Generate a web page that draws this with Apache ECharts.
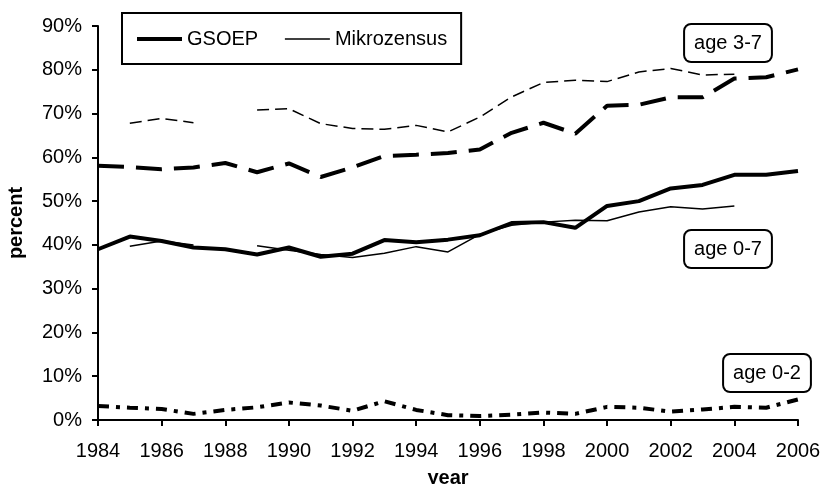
<!DOCTYPE html>
<html>
<head>
<meta charset="utf-8">
<script src="https://cdn.jsdelivr.net/npm/echarts@6/dist/echarts.min.js"></script>
<style>
html,body{margin:0;padding:0;background:#fff;}
#chart{width:823px;height:484px;}
</style>
</head>
<body>
<div id="chart"></div>
<script>
var years = [1984,1985,1986,1987,1988,1989,1990,1991,1992,1993,1994,1995,1996,1997,1998,1999,2000,2001,2002,2003,2004,2005,2006];
var gsoep07 = [39.0,41.9,40.9,39.4,39.0,37.8,39.4,37.3,38.0,41.1,40.6,41.2,42.2,45.0,45.2,43.9,48.9,50.0,52.9,53.7,56.0,56.0,56.9];
var mikro07 = [null,39.7,40.9,40.0,null,39.8,38.8,37.8,37.1,38.1,39.6,38.4,42.4,44.5,45.2,45.6,45.5,47.5,48.7,48.2,48.9,null,null];
var gsoep37 = [58.1,57.8,57.3,57.7,58.7,56.6,58.6,55.5,57.7,60.3,60.6,61.0,61.8,65.6,67.9,65.4,71.8,72.0,73.7,73.7,78.0,78.3,80.1];
var mikro37 = [null,67.8,68.9,67.9,null,70.8,71.1,67.7,66.6,66.4,67.3,65.8,69.2,73.8,77.1,77.6,77.3,79.5,80.3,78.8,79.0,null,null];
var gsoep02 = [3.2,2.8,2.5,1.4,2.3,2.9,4.0,3.3,2.1,4.3,2.3,1.1,0.9,1.2,1.7,1.4,3.0,2.8,1.9,2.4,3.0,2.8,4.7];
var yTicks = [0,10,20,30,40,50,60,70,80,90];
var legendNames = ['GSOEP','Mikrozensus'];
var annotations = ['age 3-7','age 0-7','age 0-2'];

function pairs(vals){ return years.map(function(y,i){ return [y, vals[i]]; }); }

var FONT = '"Liberation Sans", Arial, Helvetica, sans-serif';
var FS = 20;
var chart = echarts.init(document.getElementById('chart'), null, {renderer:'canvas'});

function ann(text, cx, cy){
  return {
    type:'text', x:cx, y:cy, z:100,
    style:{
      text:text, fill:'#000', font:FS + 'px ' + FONT,
      align:'center', verticalAlign:'middle',
      backgroundColor:'#fff', borderColor:'#000', borderWidth:2, borderRadius:6,
      padding:[8,9,8,9]
    }
  };
}

var option = {
  backgroundColor:'#fff',
  animation:false,
  textStyle:{fontFamily:FONT, color:'#000'},
  grid:{left:98, right:25, top:26, bottom:64, containLabel:false, outerBoundsMode:'none'},
  legend:{
    left:122, top:13,
    orient:'horizontal',
    padding:[15,14,14,13],
    itemGap:26,
    itemWidth:45, itemHeight:14,
    borderColor:'#000', borderWidth:2,
    backgroundColor:'#fff',
    textStyle:{fontSize:FS, color:'#000', fontFamily:FONT, lineHeight:22},
    data:[
      {name:legendNames[0], lineStyle:{type:'solid', width:4, color:'#000'}, itemStyle:{opacity:0}},
      {name:legendNames[1], lineStyle:{type:'solid', width:1.5, color:'#000'}, itemStyle:{opacity:0}}
    ]
  },
  xAxis:{
    type:'value', min:1984, max:2006, interval:2,
    name:'year', nameLocation:'middle', nameGap:48,
    nameTextStyle:{fontSize:FS, fontWeight:'bold', color:'#000', fontFamily:FONT},
    axisLine:{show:true, onZero:false, lineStyle:{color:'#000', width:2}},
    axisTick:{show:true, length:6, lineStyle:{color:'#000', width:2}},
    axisLabel:{fontSize:FS, color:'#000', margin:21, fontFamily:FONT, formatter:function(v){return String(v);}},
    splitLine:{show:false}
  },
  yAxis:{
    type:'value', min:yTicks[0], max:yTicks[yTicks.length-1], interval:10,
    name:'percent', nameLocation:'middle', nameRotate:90, nameGap:72,
    nameTextStyle:{fontSize:FS, fontWeight:'bold', color:'#000', fontFamily:FONT},
    axisLine:{show:true, lineStyle:{color:'#000', width:2}},
    axisTick:{show:true, length:6, lineStyle:{color:'#000', width:2}},
    axisLabel:{fontSize:FS, color:'#000', margin:16, fontFamily:FONT, formatter:'{value}%'},
    splitLine:{show:false}
  },
  series:[
    {name:'GSOEP', type:'line', data:pairs(gsoep07), symbol:'none', showSymbol:false,
     lineStyle:{color:'#000', width:4, type:'solid'}, itemStyle:{color:'#000'}, z:5},
    {name:'Mikrozensus', type:'line', data:pairs(mikro07), symbol:'none', showSymbol:false,
     lineStyle:{color:'#000', width:1.5, type:'solid'}, itemStyle:{color:'#000'}, z:6},
    {name:'GSOEP', type:'line', data:pairs(gsoep37), symbol:'none', showSymbol:false,
     lineStyle:{color:'#000', width:4, type:[26,12]}, itemStyle:{color:'#000'}, z:5},
    {name:'Mikrozensus', type:'line', data:pairs(mikro37), symbol:'none', showSymbol:false,
     lineStyle:{color:'#000', width:1.5, type:[12,6]}, itemStyle:{color:'#000'}, z:6},
    {name:'GSOEP', type:'line', data:pairs(gsoep02), symbol:'none', showSymbol:false,
     lineStyle:{color:'#000', width:4, type:[11,7,4,7]}, itemStyle:{color:'#000'}, z:5}
  ],
  graphic:[
    ann(annotations[0], 728, 43),
    ann(annotations[1], 728, 249),
    ann(annotations[2], 767, 373)
  ]
};
chart.setOption(option);
</script>
</body>
</html>
